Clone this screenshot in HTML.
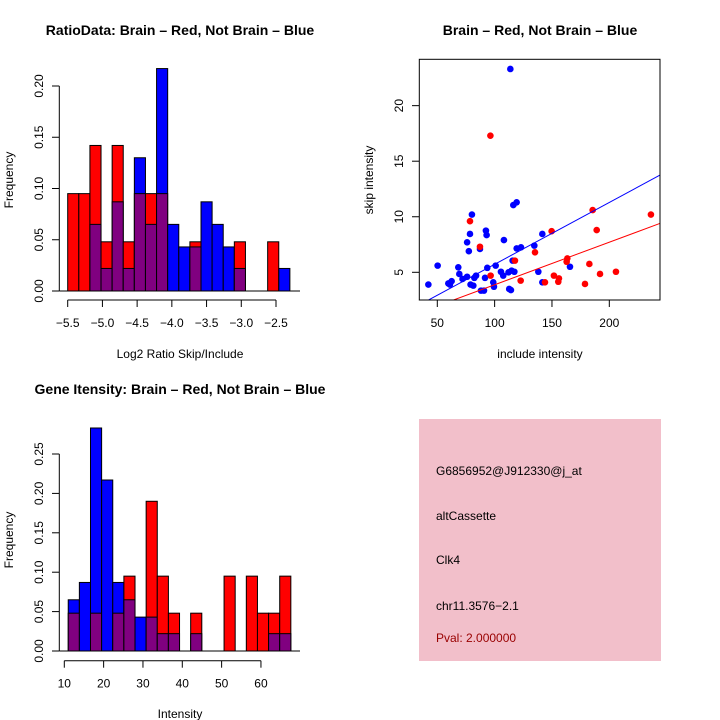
<!DOCTYPE html>
<html><head><meta charset="utf-8">
<style>
body{margin:0;background:#fff;}
svg{display:block;font-family:"Liberation Sans",Arial,sans-serif;}
</style></head>
<body>
<svg id="c" width="720" height="720" viewBox="0 0 720 720">
<rect width="720" height="720" fill="#fff"/>
</svg>
<script>
// ---- Data ----
const ratioBreaks = [-5.5,-5.34,-5.18,-5.02,-4.86,-4.70,-4.54,-4.38,-4.22,-4.06,-3.90,-3.74,-3.58,-3.42,-3.26,-3.10,-2.94,-2.78,-2.62,-2.46,-2.30];
const ratioRed  = [0.095,0.095,0.142,0.048,0.142,0.048,0.095,0.095,0.095,0,0,0.048,0,0,0,0.048,0,0,0.048,0];
const ratioBlue = [0,0,0.065,0.022,0.087,0.022,0.130,0.065,0.217,0.065,0.043,0.043,0.087,0.065,0.043,0.022,0,0,0,0.022];
const ratioXTicks = [-5.5,-5.0,-4.5,-4.0,-3.5,-3.0,-2.5];
const ratioXLabels = ["\u22125.5","\u22125.0","\u22124.5","\u22124.0","\u22123.5","\u22123.0","\u22122.5"];
const ratioYTicks = [0,0.05,0.10,0.15,0.20];
const ratioYLabels = ["0.00","0.05","0.10","0.15","0.20"];

const intBreaks = [11,13.83,16.66,19.49,22.32,25.15,27.98,30.81,33.64,36.47,39.3,42.13,44.96,47.79,50.62,53.45,56.28,59.11,61.94,64.77,67.6];
const intRed  = [0.048,0,0.048,0,0.048,0.095,0,0.19,0.095,0.048,0,0.048,0,0,0.095,0,0.095,0.048,0.048,0.095];
const intBlue = [0.065,0.087,0.283,0.217,0.087,0.065,0.043,0.043,0.022,0.022,0,0.022,0,0,0,0,0,0,0.022,0.022];
const intXTicks = [10,20,30,40,50,60];
const intYTicks = [0,0.05,0.10,0.15,0.20,0.25];
const intYLabels = ["0.00","0.05","0.10","0.15","0.20","0.25"];

const blueX = [42.2,50.3,59.6,61,62.5,68.3,69.2,72,76,76,77.5,78.5,79,80.2,81.4,82.3,83.8,87.2,88.1,90.7,91.6,92.4,93,93.6,98.8,99.4,100.9,105.5,107.5,108.1,112.1,112.7,114.2,113.7,114.8,115.7,116.3,117.2,119.2,119.2,123,134.6,138.1,141.6,141.6,165.7];
const blueY = [3.9,5.6,4.0,3.9,4.2,5.45,4.85,4.4,4.6,7.7,6.9,8.45,3.9,10.2,3.8,4.5,4.7,7.1,3.35,3.35,4.5,8.75,8.35,5.4,4.1,3.7,5.6,5.05,4.7,7.9,5.0,3.5,3.4,23.3,5.15,6.05,11.05,5.05,11.3,7.15,7.25,7.4,5.05,8.45,4.1,5.5];
const redX = [78.5,87.2,96.3,96.5,117.7,122.7,135.2,143.9,149.7,151.7,156.1,155.5,162.8,163.4,178.8,182.6,185.5,189,191.9,205.8,236.3];
const redY = [9.6,7.3,17.3,4.7,6.05,4.25,6.8,4.1,8.7,4.7,4.45,4.15,5.95,6.25,3.95,5.75,10.6,8.8,4.85,5.05,10.2];
const fitBlue = [0.15,0.0557];
const fitRed = [0.05,0.0383];
const scXTicks = [50,100,150,200];
const scYTicks = [5,10,15,20];

const NS="http://www.w3.org/2000/svg";
const svg=document.getElementById('c');
function el(tag,attrs,parent){const e=document.createElementNS(NS,tag);for(const k in attrs)e.setAttribute(k,attrs[k]);(parent||svg).appendChild(e);return e;}
function txt(s,attrs,parent){const e=el('text',attrs,parent);e.textContent=s;return e;}

// ---- Histogram helper ----
function hist(opts){
  const g=el('g',{});
  
  
  const {xs,ys,breaks,red,blue}=opts;
  for(let i=0;i<red.length;i++){
    const x0=xs(breaks[i]),x1=xs(breaks[i+1]);
    const r=red[i],b=blue[i];
    const hi=Math.max(r,b),lo=Math.min(r,b);
    if(hi<=0)continue;
    const top=el('rect',{x:x0,y:ys(hi),width:x1-x0,height:ys(0)-ys(hi),fill:r>=b?'#ff0000':'#0000ff',stroke:'#000','stroke-width':1},g);
    
    
    if(lo>0){
      const p=el('rect',{x:x0,y:ys(lo),width:x1-x0,height:ys(0)-ys(lo),fill:'#800080',stroke:'#000','stroke-width':1},g);
      
      
    }
  }
  // x axis
  const xa=el('g',{},g);
  
  
  el('line',{x1:xs(opts.xt[0]),x2:xs(opts.xt[opts.xt.length-1]),y1:opts.xAxisY,y2:opts.xAxisY,stroke:'#000'},xa);
  opts.xt.forEach((v,i)=>{
    el('line',{x1:xs(v),x2:xs(v),y1:opts.xAxisY,y2:opts.xAxisY+7,stroke:'#000'},xa);
    const t=txt(opts.xl[i],{x:xs(v),y:opts.xAxisY+27,'font-size':12,'text-anchor':'middle'},xa);
    
    
  });
  const ya=el('g',{},g);
  
  
  el('line',{x1:59.3,x2:59.3,y1:ys(0),y2:ys(opts.yt[opts.yt.length-1]),stroke:'#000'},ya);
  opts.yt.forEach((v,i)=>{
    el('line',{x1:52,x2:59.3,y1:ys(v),y2:ys(v),stroke:'#000'},ya);
    const t=txt(opts.yl[i],{x:0,y:0,'font-size':12,'text-anchor':'middle',transform:`translate(43,${ys(v)}) rotate(-90)`},ya);
    
    
  });
  // baseline
  el('line',{x1:59.3,x2:300,y1:ys(0),y2:ys(0),stroke:'#000'},g);
}

// top-left histogram
const rxs=v=>67.7+(v+5.5)*69.43;
const rys=v=>291-v*1025;
hist({name:'ratio-histogram',xs:rxs,ys:rys,breaks:ratioBreaks,red:ratioRed,blue:ratioBlue,xt:ratioXTicks,xl:ratioXLabels,yt:ratioYTicks,yl:ratioYLabels,xAxisY:300});
let t;
t=txt('RatioData: Brain \u2013 Red, Not Brain \u2013 Blue',{x:180,y:35,'font-size':14,'font-weight':'bold','text-anchor':'middle'});

t=txt('Log2 Ratio Skip/Include',{x:180,y:358,'font-size':12,'text-anchor':'middle'});

t=txt('Frequency',{x:0,y:0,'font-size':12,'text-anchor':'middle',transform:'translate(13,180) rotate(-90)'});


// bottom-left histogram
const ixs=v=>64.3+(v-10)*3.933;
const iys=v=>651-v*788;
hist({name:'intensity-histogram',xs:ixs,ys:iys,breaks:intBreaks,red:intRed,blue:intBlue,xt:intXTicks,xl:intXTicks.map(String),yt:intYTicks,yl:intYLabels,xAxisY:660.7});
t=txt('Gene Itensity: Brain \u2013 Red, Not Brain \u2013 Blue',{x:180,y:394,'font-size':14,'font-weight':'bold','text-anchor':'middle'});

t=txt('Intensity',{x:180,y:718,'font-size':12,'text-anchor':'middle'});

t=txt('Frequency',{x:0,y:0,'font-size':12,'text-anchor':'middle',transform:'translate(13,540) rotate(-90)'});


// scatter
const sx=v=>437.3+(v-50)*1.1467;
const sy=v=>272.3-(v-5)*11.11;
const sg=el('g',{});


el('clipPath',{id:'clip'},sg).appendChild(Object.assign(document.createElementNS(NS,'rect'),{}));
document.querySelector('#clip rect').setAttribute('x',419.3);
document.querySelector('#clip rect').setAttribute('y',59.3);
document.querySelector('#clip rect').setAttribute('width',240.7);
document.querySelector('#clip rect').setAttribute('height',240.7);
const pg=el('g',{'clip-path':'url(#clip)'},sg);
blueX.forEach((x,i)=>{const c=el('circle',{cx:sx(x),cy:sy(blueY[i]),r:3.3,fill:'#0000ff'},pg);
});
redX.forEach((x,i)=>{const c=el('circle',{cx:sx(x),cy:sy(redY[i]),r:3.3,fill:'#ff0000'},pg);
});
const xmin=30,xmax=250;
let l=el('line',{x1:sx(xmin),y1:sy(fitBlue[0]+fitBlue[1]*xmin),x2:sx(xmax),y2:sy(fitBlue[0]+fitBlue[1]*xmax),stroke:'#0000ff','stroke-width':1},pg);

l=el('line',{x1:sx(xmin),y1:sy(fitRed[0]+fitRed[1]*xmin),x2:sx(xmax),y2:sy(fitRed[0]+fitRed[1]*xmax),stroke:'#ff0000','stroke-width':1},pg);

el('rect',{x:419.3,y:59.3,width:240.7,height:240.7,fill:'none',stroke:'#000'},sg);
scXTicks.forEach(v=>{el('line',{x1:sx(v),x2:sx(v),y1:300,y2:307,stroke:'#000'},sg);
 const tt=txt(String(v),{x:sx(v),y:327,'font-size':12,'text-anchor':'middle'},sg);
 });
scYTicks.forEach(v=>{el('line',{x1:412,x2:419.3,y1:sy(v),y2:sy(v),stroke:'#000'},sg);
 const tt=txt(String(v),{x:0,y:0,'font-size':12,'text-anchor':'middle',transform:`translate(403,${sy(v)}) rotate(-90)`},sg);
 });
t=txt('Brain \u2013 Red, Not Brain \u2013 Blue',{x:540,y:35,'font-size':14,'font-weight':'bold','text-anchor':'middle'});

t=txt('include intensity',{x:540,y:358,'font-size':12,'text-anchor':'middle'});

t=txt('skip intensity',{x:0,y:0,'font-size':12,'text-anchor':'middle',transform:'translate(373,180) rotate(-90)'});


// info panel
const ig=el('g',{});


el('rect',{x:419,y:419,width:242,height:242,fill:'#f2bfca'},ig);
[['G6856952@J912330@j_at',475,'#000','probe-id'],['altCassette',520,'#000','event-type'],['Clk4',564,'#000','gene-name'],['chr11.3576\u22122.1',610,'#000','location'],['Pval: 2.000000',642,'#990000','p-value']].forEach(a=>{
  const tt=txt(a[0],{x:436,y:a[1],'font-size':12,fill:a[2]},ig);
  
});
</script>
</body></html>
